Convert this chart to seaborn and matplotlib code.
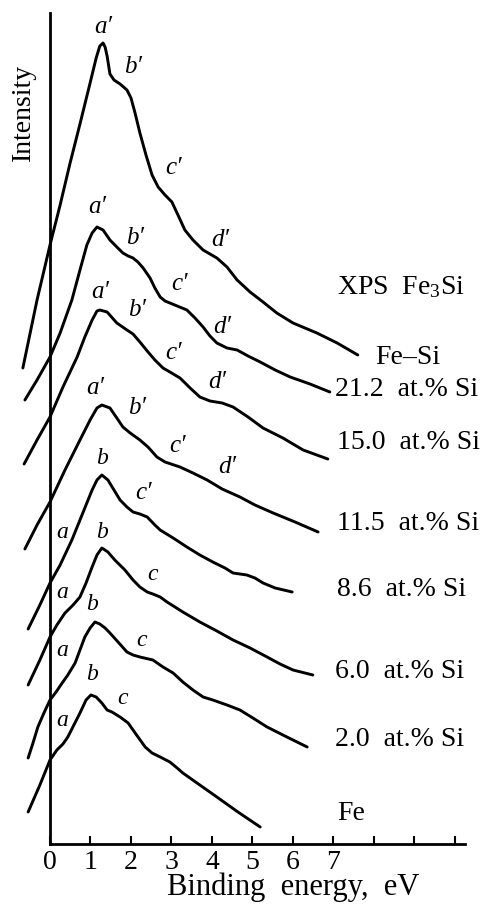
import matplotlib
matplotlib.use("Agg")
import matplotlib.pyplot as plt
import seaborn as sns
import pandas as pd

# ---- data (binding energy in eV, stacked intensity in arb. units) ----
fesi_x = [-0.67, -0.49, -0.32, 0, 0.25, 0.49, 0.74, 0.99, 1.14, 1.23, 1.31, 1.36, 1.41, 1.48, 1.58, 1.73, 1.90, 2.00, 2.10, 2.22, 2.37, 2.52, 2.67, 2.84, 3.01, 3.16, 3.33, 3.53, 3.78, 4.12, 4.37, 4.62, 4.94, 5.26, 5.60, 6.00, 6.59, 7.09, 7.60]
fesi_y = [4.76, 5.11, 5.44, 5.99, 6.39, 6.80, 7.20, 7.61, 7.86, 7.98, 8.01, 7.97, 7.88, 7.70, 7.64, 7.60, 7.54, 7.46, 7.31, 7.11, 6.89, 6.69, 6.57, 6.49, 6.42, 6.29, 6.14, 6.04, 5.94, 5.86, 5.77, 5.64, 5.52, 5.42, 5.31, 5.21, 5.11, 5.01, 4.89]

si212_x = [-0.62, -0.32, 0, 0.25, 0.54, 0.74, 0.91, 1.04, 1.16, 1.31, 1.48, 1.65, 1.80, 1.93, 2.05, 2.17, 2.30, 2.47, 2.59, 2.72, 2.84, 2.96, 3.14, 3.38, 3.58, 3.78, 3.95, 4.12, 4.37, 4.62, 4.89, 5.19, 5.56, 5.93, 6.42, 6.91]
si212_y = [4.44, 4.64, 4.87, 5.11, 5.44, 5.74, 5.99, 6.11, 6.17, 6.14, 6.04, 5.97, 5.91, 5.88, 5.86, 5.82, 5.76, 5.66, 5.56, 5.47, 5.43, 5.41, 5.38, 5.34, 5.26, 5.17, 5.08, 5.01, 4.96, 4.94, 4.88, 4.82, 4.74, 4.67, 4.60, 4.52]

si150_x = [-0.64, -0.32, 0, 0.32, 0.67, 0.86, 1.04, 1.16, 1.23, 1.41, 1.65, 1.90, 2.05, 2.22, 2.40, 2.59, 2.79, 2.96, 3.21, 3.46, 3.70, 3.95, 4.25, 4.52, 4.89, 5.26, 5.75, 6.25, 6.86]
si150_y = [3.80, 4.04, 4.27, 4.57, 4.87, 5.07, 5.24, 5.33, 5.34, 5.32, 5.21, 5.14, 5.10, 5.02, 4.93, 4.84, 4.76, 4.72, 4.66, 4.56, 4.47, 4.43, 4.41, 4.37, 4.27, 4.16, 4.06, 3.94, 3.85]

si115_x = [-0.62, -0.32, 0, 0.37, 0.74, 0.99, 1.16, 1.28, 1.48, 1.65, 1.80, 1.98, 2.22, 2.42, 2.64, 2.84, 3.21, 3.53, 3.88, 4.25, 4.69, 5.06, 5.51, 6.05, 6.62]
si115_y = [2.95, 3.19, 3.42, 3.74, 4.04, 4.24, 4.36, 4.39, 4.36, 4.26, 4.17, 4.11, 4.04, 3.97, 3.87, 3.82, 3.77, 3.71, 3.64, 3.55, 3.47, 3.39, 3.31, 3.22, 3.12]

si86_x = [-0.54, -0.25, 0, 0.25, 0.54, 0.81, 1.04, 1.16, 1.28, 1.43, 1.58, 1.73, 1.90, 2.05, 2.22, 2.40, 2.59, 2.72, 3.04, 3.38, 3.70, 4.02, 4.32, 4.52, 4.86, 5.06, 5.26, 5.56, 5.98]
si86_y = [2.15, 2.39, 2.61, 2.79, 3.04, 3.31, 3.54, 3.64, 3.69, 3.64, 3.54, 3.44, 3.37, 3.32, 3.30, 3.27, 3.19, 3.14, 3.06, 2.97, 2.89, 2.82, 2.76, 2.71, 2.69, 2.66, 2.61, 2.56, 2.52]

si60_x = [-0.54, -0.25, 0, 0.17, 0.37, 0.57, 0.74, 0.89, 1.04, 1.16, 1.28, 1.43, 1.60, 1.85, 2.05, 2.22, 2.40, 2.54, 2.72, 2.89, 3.28, 3.70, 4.12, 4.52, 4.94, 5.36, 5.68, 6.00, 6.49]
si60_y = [1.59, 1.84, 2.07, 2.19, 2.31, 2.39, 2.47, 2.61, 2.77, 2.89, 2.96, 2.92, 2.84, 2.74, 2.64, 2.57, 2.52, 2.50, 2.47, 2.42, 2.32, 2.22, 2.13, 2.04, 1.96, 1.87, 1.80, 1.74, 1.69]

si20_x = [-0.54, -0.42, -0.30, -0.15, 0, 0.15, 0.30, 0.44, 0.62, 0.74, 0.86, 0.99, 1.11, 1.23, 1.36, 1.48, 1.68, 1.90, 2.05, 2.22, 2.54, 2.79, 3.04, 3.28, 3.53, 3.78, 4.02, 4.37, 4.69, 5.01, 5.36, 5.85, 6.35]
si20_y = [0.86, 1.01, 1.17, 1.31, 1.44, 1.52, 1.61, 1.69, 1.81, 1.94, 2.07, 2.16, 2.22, 2.20, 2.16, 2.11, 2.02, 1.92, 1.89, 1.87, 1.84, 1.77, 1.71, 1.62, 1.54, 1.47, 1.44, 1.39, 1.34, 1.26, 1.17, 1.07, 0.97]

fe_x = [-0.54, -0.25, 0, 0.17, 0.32, 0.44, 0.59, 0.74, 0.89, 1.01, 1.14, 1.28, 1.41, 1.53, 1.73, 1.93, 2.12, 2.35, 2.52, 2.72, 2.96, 3.14, 3.28, 3.70, 4.12, 4.64, 5.19]
fe_y = [0.32, 0.59, 0.84, 0.94, 1.00, 1.07, 1.19, 1.31, 1.44, 1.49, 1.47, 1.41, 1.34, 1.32, 1.27, 1.21, 1.10, 0.97, 0.91, 0.87, 0.82, 0.76, 0.71, 0.59, 0.47, 0.32, 0.17]

samples = ["Fe–Si", "21.2", "15.0", "11.5", "8.6", "6.0", "2.0", "Fe"]
xs = [fesi_x, si212_x, si150_x, si115_x, si86_x, si60_x, si20_x, fe_x]
ys = [fesi_y, si212_y, si150_y, si115_y, si86_y, si60_y, si20_y, fe_y]

# series labels: text, x (eV), y
series_text = ["XPS  Fe$_3$Si", "Fe–Si", "21.2  at.% Si", "15.0  at.% Si", "11.5  at.% Si",
               "8.6  at.% Si", "6.0  at.% Si", "2.0  at.% Si", "Fe"]
series_tx = [7.09, 8.02, 7.04, 7.09, 7.09, 7.09, 7.04, 7.04, 7.09]
series_ty = [5.57, 4.87, 4.54, 4.02, 3.21, 2.54, 1.73, 1.04, 0.30]

# peak feature labels
peak_text = ["a′", "b′", "c′", "d′",
             "a′", "b′", "c′", "d′",
             "a′", "b′", "c′", "d′",
             "a′", "b′", "c′", "d′",
             "b", "c′", "a",
             "b", "c", "a",
             "b", "c", "a",
             "b", "c", "a"]
peak_x = [1.31, 2.05, 3.04, 4.20,
          1.16, 2.10, 3.21, 4.25,
          1.23, 2.15, 3.06, 4.12,
          1.11, 2.15, 3.16, 4.37,
          1.28, 2.30, 0.30,
          1.28, 2.54, 0.30,
          1.04, 2.27, 0.30,
          1.04, 1.80, 0.30]
peak_y = [8.17, 7.77, 6.76, 6.04,
          6.37, 6.06, 5.60, 5.17,
          5.52, 5.34, 4.91, 4.62,
          4.56, 4.36, 3.98, 3.77,
          3.86, 3.51, 3.11,
          3.12, 2.70, 2.52,
          2.39, 2.04, 1.94,
          1.69, 1.46, 1.24]

tick_vals = [0, 1, 2, 3, 4, 5, 6, 7, 8, 9, 10]
tick_labels = ["0", "1", "2", "3", "4", "5", "6", "7", "", "", ""]

# ---- long table ----
rows = []
for s, xv, yv in zip(samples, xs, ys):
    for a, b in zip(xv, yv):
        rows.append({"energy": a, "intensity": b, "sample": s})
df = pd.DataFrame(rows)

sns.set_theme(style="white")
plt.rcParams["font.family"] = ["Liberation Serif", "DejaVu Serif"]
plt.rcParams["mathtext.fontset"] = "custom"
plt.rcParams["mathtext.rm"] = "Liberation Serif"
plt.rcParams["mathtext.it"] = "Liberation Serif:italic"

W, H = 481, 907
fig = plt.figure(figsize=(W / 100, H / 100), dpi=100)
ax = fig.add_axes([13.55 / W, (H - 844) / H, (467.15 - 13.55) / W, (844 - 13) / H])

sns.lineplot(data=df, x="energy", y="intensity", units="sample", estimator=None,
             sort=False, color="black", linewidth=2.1, ax=ax, legend=False,
             solid_joinstyle="round", solid_capstyle="round")

ax.set_xlim(-0.9, 10.3)
ax.set_ylim(0, 8.31)
ax.set_xlabel("")
ax.set_ylabel("")

for side in ["top", "right"]:
    ax.spines[side].set_visible(False)
ax.spines["left"].set_position(("data", 0))
ax.spines["left"].set_bounds(0, 8.31)
ax.spines["bottom"].set_bounds(0, 10.25)
for side in ["left", "bottom"]:
    ax.spines[side].set_color("black")
    ax.spines[side].set_linewidth(2.0)

ax.set_xticks(tick_vals)
ax.tick_params(axis="x", direction="in", length=6, width=1.5, pad=4,
               colors="black", bottom=True)
ax.set_xticklabels(tick_labels, fontsize=20)
ax.tick_params(axis="y", left=False, labelleft=False)

for t, x, y in zip(series_text, series_tx, series_ty):
    ax.text(x, y, t, ha="left", va="center", fontsize=20, color="black")

for t, x, y in zip(peak_text, peak_x, peak_y):
    fs = 18 if "′" in t else 17
    ax.text(x, y, t, ha="center", va="center", fontsize=fs, style="italic", color="black")

fig.text(23 / W, 1 - 112 / H, "Intensity", rotation=90, ha="center", va="center",
         fontsize=20, color="black")
fig.text(293 / W, 1 - 887 / H, "Binding  energy,  eV", ha="center", va="center",
         fontsize=22, color="black")

fig.savefig("out.png", dpi=100, facecolor="white")
